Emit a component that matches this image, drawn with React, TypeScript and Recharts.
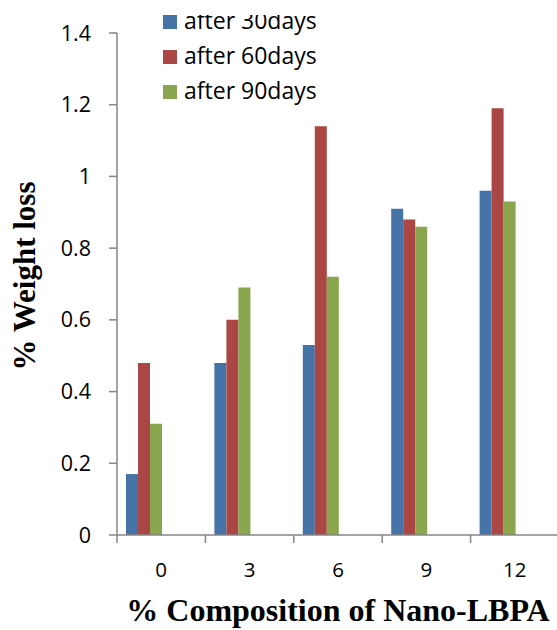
import React from 'react';
import { BarChart, Bar, XAxis, YAxis, Legend, Label } from 'recharts';

const categories = ['0', '3', '6', '9', '12'];
const after30 = [0.17, 0.48, 0.53, 0.91, 0.96];
const after60 = [0.48, 0.6, 1.14, 0.88, 1.19];
const after90 = [0.31, 0.69, 0.72, 0.86, 0.93];
const yTicks = [0, 0.2, 0.4, 0.6, 0.8, 1, 1.2, 1.4];
const seriesNames = ['after 30days', 'after 60days', 'after 90days'];
const seriesColors = ['#4572A7', '#AA4643', '#89A54E'];

const data = categories.map((c, i) => ({
  cat: c,
  s30: after30[i],
  s60: after60[i],
  s90: after90[i],
}));

const W = 557;
const H = 630;
const M = { top: 33, right: -2, bottom: 0, left: 0 };
const Y_W = 117;
const X_H = 95;
const TICK_SIZE = 8;
const X_TICK_MARGIN = 19;
const AXIS_COLOR = '#868686';
const TICK_FONT = '"Open Sans", sans-serif';
const TITLE_FONT = '"Liberation Serif", "Times New Roman", serif';

const plotWidth = W - M.left - M.right - Y_W;
const bandWidth = plotWidth / categories.length;

const XTick = (props: any) => {
  const { x, y, payload, index } = props;
  const axisY = y - TICK_SIZE - X_TICK_MARGIN;
  const left = x - bandWidth / 2;
  return (
    <g>
      <line x1={left} x2={left} y1={axisY} y2={axisY + TICK_SIZE} stroke={AXIS_COLOR} strokeWidth={1.5} />
      {index === categories.length - 1 && (
        <line x1={x + bandWidth / 2} x2={x + bandWidth / 2} y1={axisY} y2={axisY + TICK_SIZE} stroke={AXIS_COLOR} strokeWidth={1.5} />
      )}
      <text x={x} y={y} dy="0.71em" textAnchor="middle" fontFamily={TICK_FONT} fontSize={20.5} fill="#000">
        {payload.value}
      </text>
    </g>
  );
};

const LegendContent = () => (
  <div style={{ position: 'relative', width: W, height: 110 }}>
    {seriesNames.map((name, i) => {
      const cy = 21.5 + 35 * i;
      const textTop = cy - 16;
      const clip = i === 0 ? 15 - textTop : 0;
      return (
        <React.Fragment key={name}>
          <div
            style={{
              position: 'absolute',
              left: 163,
              top: cy - 7,
              width: 14,
              height: 14,
              background: seriesColors[i],
            }}
          />
          <div
            style={{
              position: 'absolute',
              left: 184,
              top: textTop + clip,
              height: 36 - clip,
              overflow: i === 0 ? 'hidden' : 'visible',
              width: 220,
            }}
          >
            <div
              style={{
                marginTop: -clip,
                height: 28,
                lineHeight: '28px',
                fontSize: 23,
                fontFamily: TICK_FONT,
                color: '#000',
                whiteSpace: 'nowrap',
              }}
            >
              {name}
            </div>
          </div>
        </React.Fragment>
      );
    })}
  </div>
);

export default function App() {
  return (
    <div style={{ position: 'absolute', top: 0, left: 0, width: W, height: H, background: '#fff', overflow: 'hidden' }}>
      <BarChart
        width={W}
        height={H}
        data={data}
        margin={M}
        barCategoryGap={9}
        barGap={0}
      >
        <XAxis
          dataKey="cat"
          height={X_H}
          axisLine={{ stroke: AXIS_COLOR, strokeWidth: 1.5 }}
          tickLine={false}
          tickSize={TICK_SIZE}
          tickMargin={X_TICK_MARGIN}
          tick={<XTick />}
          interval={0}
        >
          <Label
            content={(p: any) => {
              const vb = p.viewBox;
              return (
                <text
                  x={vb.x + vb.width / 2}
                  y={vb.y + 86}
                  textAnchor="middle"
                  fontFamily={TITLE_FONT}
                  fontWeight="bold"
                  fontSize={32}
                  fill="#000"
                >
                  % Composition of Nano-LBPA
                </text>
              );
            }}
          />
        </XAxis>
        <YAxis
          width={Y_W}
          domain={[0, 1.4]}
          ticks={yTicks}
          interval={0}
          axisLine={{ stroke: AXIS_COLOR, strokeWidth: 1.5 }}
          tickLine={{ stroke: AXIS_COLOR, strokeWidth: 1.5 }}
          tickSize={TICK_SIZE}
          tickMargin={18}
          tick={{ fontFamily: TICK_FONT, fontSize: 21.5, fill: '#000' }}
          tickFormatter={(v: number) => String(v)}
        >
          <Label
            content={(p: any) => {
              const vb = p.viewBox;
              const x = vb.x + 35;
              const y = vb.y + vb.height / 2 - 8;
              return (
                <text
                  x={x}
                  y={y}
                  transform={`rotate(-90 ${x} ${y})`}
                  textAnchor="middle"
                  fontFamily={TITLE_FONT}
                  fontWeight="bold"
                  fontSize={31}
                  fill="#000"
                >
                  % Weight loss
                </text>
              );
            }}
          />
        </YAxis>
        <Legend
          layout="vertical"
          align="center"
          verticalAlign="middle"
          content={<LegendContent />}
          wrapperStyle={{ position: 'absolute', top: 0, left: 0, width: W, height: 110 }}
        />
        <Bar dataKey="s30" name={seriesNames[0]} fill={seriesColors[0]} isAnimationActive={false} />
        <Bar dataKey="s60" name={seriesNames[1]} fill={seriesColors[1]} isAnimationActive={false} />
        <Bar dataKey="s90" name={seriesNames[2]} fill={seriesColors[2]} isAnimationActive={false} />
        <Bar dataKey="empty1" legendType="none" fill="none" isAnimationActive={false} />
        <Bar dataKey="empty2" legendType="none" fill="none" isAnimationActive={false} />
        <Bar dataKey="empty3" legendType="none" fill="none" isAnimationActive={false} />
      </BarChart>
    </div>
  );
}
